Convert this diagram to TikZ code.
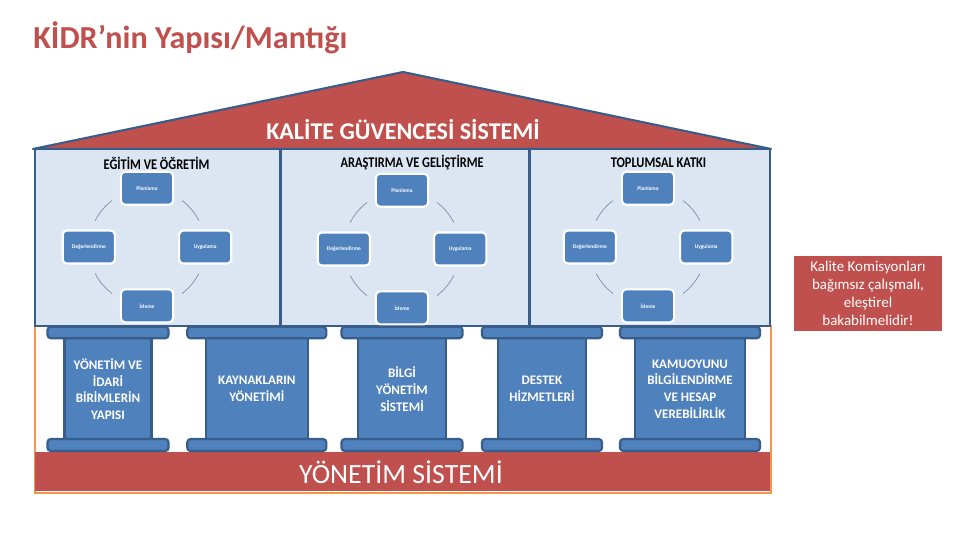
\documentclass[tikz,border=0pt]{standalone}
\usepackage{fontspec}
\setmainfont{Carlito}
\usepackage{tikz}
\usetikzlibrary{positioning}
\definecolor{kdred}{HTML}{C0504D}
\definecolor{kdblue}{HTML}{4F81BD}
\definecolor{kdnavy}{HTML}{385D8A}
\definecolor{kdpale}{HTML}{DCE6F2}
\definecolor{kdorange}{HTML}{F79646}
\definecolor{kdarc}{HTML}{7F93B2}

\begin{document}
\begin{tikzpicture}[x=1cm, y=1cm,
  panel/.style={draw=kdnavy, fill=kdpale, line width=1.4pt},
  stage/.style={draw=white, fill=kdblue, line width=1pt, rounded corners=2pt, minimum width=8.7mm, minimum height=5.5mm, inner sep=0pt, text=white, font=\fontsize{2.6}{3}\selectfont\bfseries},
  cyc/.style={draw=kdarc, line width=0.35pt},
  ttl/.style={font=\fontsize{7}{8}\selectfont\bfseries},
  slab/.style={draw=kdnavy, fill=kdblue, line width=1pt, rounded corners=1.5pt, minimum height=1.9mm, inner sep=0pt},
  shaft/.style={draw=kdnavy, fill=kdblue, line width=1pt, minimum height=17mm, inner sep=0pt, align=center, text=white, font=\fontsize{6.2}{7.9}\selectfont\bfseries}
]
\path (0,0) rectangle (16,-9);
% ---------- title ----------
\node[anchor=west, inner sep=0pt, text=kdred, font=\fontsize{15.2}{17}\selectfont\bfseries] (title) at (0.55,-0.63) {KİDR’nin Yapısı/Mantığı};
% ---------- foundation ----------
\draw[kdorange, fill=white, line width=1pt] (0.583,-5.433) rectangle (12.85,-8.217);
\fill[kdred] (0.583,-7.533) rectangle (12.833,-8.19);
\node[text=white, font=\fontsize{13.2}{15}\selectfont] (base) at (6.683,-7.867) {YÖNETİM SİSTEMİ};
% ---------- roof ----------
\draw[kdnavy, fill=kdred, line width=1pt, line join=round] (0.55,-2.483) -- (6.717,-1.2) -- (12.85,-2.483) -- cycle;
\node[text=white, font=\fontsize{11.4}{13}\selectfont\bfseries] (roof) at (6.717,-2.167) {KALİTE GÜVENCESİ SİSTEMİ};
% ---------- three panels ----------
\draw[panel] (0.583,-2.483) rectangle (4.667,-5.433);
\draw[panel] (4.667,-2.483) rectangle (8.817,-5.433);
\draw[panel] (8.817,-2.483) rectangle (12.833,-5.433);
\node[ttl] (h1) at (2.61,-2.717) {\scalebox{0.84}[1]{EĞİTİM VE ÖĞRETİM}};
\node[ttl] (h2) at (6.87,-2.717) {\scalebox{0.84}[1]{ARAŞTIRMA VE GELİŞTİRME}};
\node[ttl] (h3) at (10.975,-2.717) {\scalebox{0.84}[1]{TOPLUMSAL KATKI}};
% cycle in every panel
\foreach \k/\cx/\cy in {1/2.45/-4.117, 2/6.70/-4.15, 3/10.80/-4.117}{
  \coordinate (c\k) at (\cx,\cy);
  \node[stage] (pl\k) at ([yshift=9.8mm]c\k) {Planlama};
  \node[stage] (uy\k) at ([xshift=9.7mm]c\k) {Uygulama};
  \node[stage] (iz\k) at ([yshift=-9.8mm]c\k) {İzleme};
  \node[stage] (de\k) at ([xshift=-9.7mm]c\k) {Değerlendirme};
  \foreach \a in {53,-27,-127,153}
    \draw[cyc] (c\k) ++(\a:9.7mm) arc[start angle=\a, end angle=\a-26, radius=9.7mm];
}
% ---------- columns ----------
\foreach \n/\x/\cw/\sw/\t in {
  1/1.80/2.017/1.45/{YÖNETİM VE\\İDARİ\\BİRİMLERİN\\YAPISI},
  2/4.28/2.317/1.70/{KAYNAKLARIN\\YÖNETİMİ},
  3/6.70/2.017/1.467/{BİLGİ\\YÖNETİM\\SİSTEMİ},
  4/9.033/2.0/1.467/{DESTEK\\HİZMETLERİ},
  5/11.50/2.333/1.833/{KAMUOYUNU\\BİLGİLENDİRME\\VE HESAP\\VEREBİLİRLİK}}{
  \node[shaft, minimum width=\sw cm] (s\n) at (\x,-6.483) {\t};
  \node[slab, minimum width=\cw cm] (t\n) at (\x,-5.542) {};
  \node[slab, minimum width=\cw cm, minimum height=2mm] (b\n) at (\x,-7.417) {};
}
% ---------- note ----------
\node[fill=kdred, text=white, minimum width=2.467cm, minimum height=1.25cm, inner sep=0pt, align=center, font=\fontsize{7.1}{8.5}\selectfont] (note) at (14.467,-4.892) {Kalite Komisyonları\\bağımsız çalışmalı,\\eleştirel\\bakabilmelidir!};
\end{tikzpicture}
\end{document}
